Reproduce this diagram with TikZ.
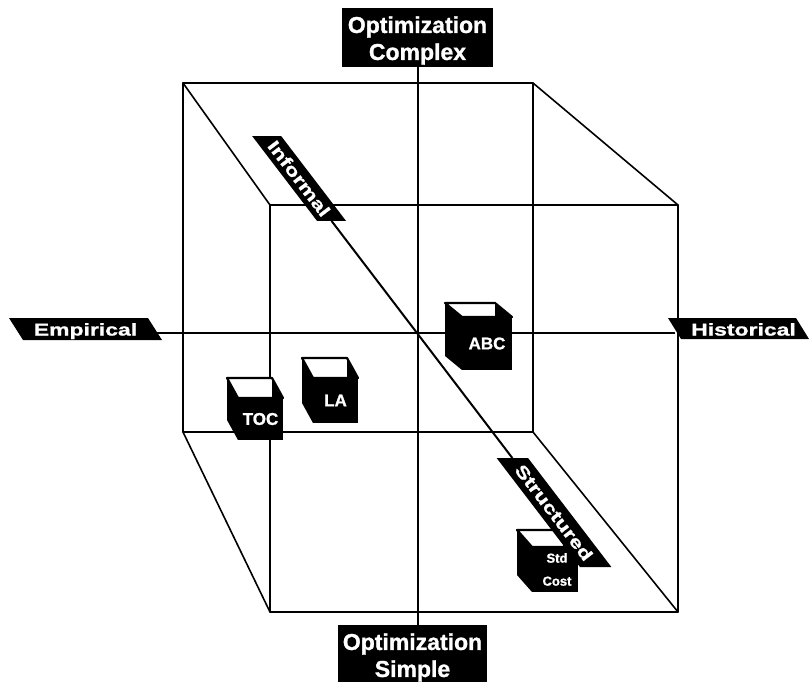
\documentclass[tikz,border=0pt]{standalone}
\usepackage{fontspec}
\setmainfont{Liberation Sans}
\newfontfamily\widefont{Liberation Sans}[FakeStretch=1.35, FakeBold=1.2]
\newfontfamily\heavyfont{Liberation Sans}[FakeBold=1.2]
\usetikzlibrary{calc}
\newcommand\cubeicon[8]{%
  \fill (#2-#6,#3-#7) -- (#2,#3) -- (#2,#3+#5) -- (#2-#6,#3+#5-#7) -- cycle;
  \filldraw[fill=white, line width=2.2pt, line join=round] (#2-#6,#3-#7) -- (#2+#4-#6,#3-#7) -- (#2+#4,#3) -- (#2,#3) -- cycle;
  \fill (#2+#4-#6,#3-#7) -- (#2+#4,#3) -- (#2+#4-#6,#3) -- cycle;
  \node[blackbox, icontext, minimum width=#4pt, minimum height=#5pt, anchor=north west] (#1) at (#2,#3) {#8};
}
\begin{document}
\begin{tikzpicture}[x=1pt,y=-1pt,
  edge/.style={line width=1.6pt, line cap=round, line join=round},
  axis/.style={line width=2pt},
  blackbox/.style={fill=black, inner sep=0pt, outer sep=0pt},
  frame/.style={inner sep=0pt, outer sep=0pt},
  bigtext/.style={text=white, font=\heavyfont\bfseries\fontsize{23}{27}\selectfont, align=center, inner sep=0pt},
  widetext/.style={text=white, font=\widefont\bfseries\fontsize{17}{20}\selectfont, inner sep=0pt},
  icontext/.style={text=white, font=\heavyfont\bfseries\fontsize{17}{20}\selectfont}
]
\useasboundingbox (0,0) rectangle (810,681);
\fill[white] (0,0) rectangle (810,681);

% cube wireframe
\coordinate (B1) at (183,83);
\coordinate (B2) at (533,83);
\coordinate (B3) at (533,432);
\coordinate (B4) at (183,432);
\coordinate (F1) at (270,205);
\coordinate (F2) at (678,205);
\coordinate (F3) at (678,612);
\coordinate (F4) at (270,612);
\draw[edge] (B1) -- (B2) -- (B3) -- (B4) -- cycle;
\draw[edge] (F1) -- (F2) -- (F3) -- (F4) -- cycle;
\draw[edge] (B1) -- (F1) (B2) -- (F2) (B3) -- (F3) (B4) -- (F4);

% label frames (for anchors)
\node[blackbox, minimum width=151pt, minimum height=59pt] (cpx) at (417.5,37.5) {};
\node[blackbox, minimum width=149pt, minimum height=59pt, anchor=north] (smp) at (412.5,625) {};
\node[frame, minimum width=139pt, minimum height=22pt] (emp) at (85.5,329) {};
\node[frame, minimum width=128pt, minimum height=21pt] (his) at (738.5,328.5) {};
\node[frame, rotate=-52.6, minimum width=106.9pt, minimum height=23pt] (inf) at (299.1,178.5) {};
\node[frame, rotate=-52.6, minimum width=137.2pt, minimum height=25pt] (str) at (554,512.5) {};

% axes
\draw[axis] (cpx.south) -- (cpx.south |- smp.north);
\draw[axis] ([yshift=-4pt]emp.east) -- ([yshift=-4.5pt]his.west);
\draw[axis] (inf.east) -- (str.west);

% small cubes
\cubeicon{abc}{462}{317}{50}{53}{17}{14}{ABC}
\cubeicon{la}{313}{378}{45}{45}{11}{20}{LA}
\cubeicon{toc}{238}{398}{45}{42}{11}{20}{TOC}
\cubeicon{stdc}{532}{547}{46}{45}{15}{17}{}

% label shapes
\fill ($(emp.north west)+(-7,0)$) -- ($(emp.north east)+(-7,0)$) -- ($(emp.south east)+(7,0)$) -- ($(emp.south west)+(7,0)$) -- cycle;
\fill ($(his.north west)+(-6.5,0)$) -- ($(his.north east)+(-6.5,0)$) -- ($(his.south east)+(6.5,0)$) -- ($(his.south west)+(6.5,0)$) -- cycle;
\fill ($(inf.west)+(-14.5,0)$) -- ($(inf.west)+(14.5,0)$) -- ($(inf.east)+(14.5,0)$) -- ($(inf.east)+(-14.5,0)$) -- cycle;
\fill ($(str.west)+(-15.7,0)$) -- ($(str.west)+(15.7,0)$) -- ($(str.east)+(15.7,0)$) -- ($(str.east)+(-15.7,0)$) -- cycle;

% label texts
\node[bigtext] (cpxt) at ([yshift=-3pt]cpx.center) {Optimization\\Complex};
\node[bigtext] (smpt) at ([yshift=-3pt]smp.center) {Optimization\\Simple};
\node[widetext, anchor=base] (empt) at ([yshift=-6.5pt]emp.center) {Empirical};
\node[widetext, anchor=base] (hist) at ([xshift=5pt,yshift=-7pt]his.center) {Historical};
\node[widetext, rotate=-52.6] (inft) at (inf.center) {Informal};
\node[widetext, rotate=-52.6] (strt) at (str.center) {Structured};
\node[text=white, font=\heavyfont\bfseries\fontsize{13}{23}\selectfont, align=center, inner sep=0pt] (stdt) at ([xshift=2pt]stdc.center) {Std\\Cost};
\end{tikzpicture}
\end{document}
